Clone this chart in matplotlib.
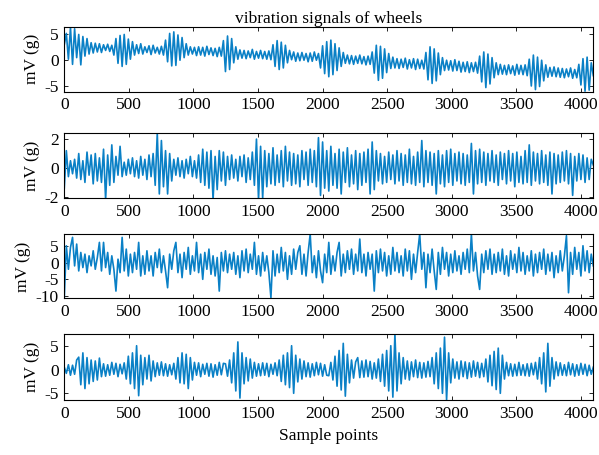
import numpy as np
import matplotlib
matplotlib.use("Agg")
import matplotlib.pyplot as plt

plt.rcParams['font.family'] = ['Liberation Serif', 'DejaVu Serif']
plt.rcParams['axes.unicode_minus'] = False

step = 16  # samples between read-off values

wheel1 = [
    3.0, 5.2, 0.2, 6.4, -0.8, 6.1, 0.5, 5.0, -0.9, 4.6, 0.8, 4.2, 1.2, 3.4, 1.4, 3.3,
    1.6, 3.2, 1.5, 3.0, 1.9, 3.1, 1.7, 2.9, 1.0, 4.2, -0.6, 4.8, -1.2, 5.0, -0.8, 4.1,
    0.2, 3.6, 1.0, 3.0, 1.3, 3.2, 1.2, 2.6, 1.5, 2.8, 1.1, 2.9, 1.4, 2.5, 1.2, 2.7,
    1.0, 3.9, -0.3, 5.2, -1.1, 5.5, -1.0, 4.9, 0.0, 4.4, 0.5, 3.2, 1.0, 2.6, 1.2, 2.5,
    0.9, 2.6, 1.0, 2.5, 0.8, 2.7, 1.1, 2.4, 0.9, 2.3, 0.7, 2.5, 0.8, 3.8, -2.2, 4.7,
    -1.8, 4.2, -0.5, 2.6, 0.2, 2.0, 0.4, 1.9, 0.3, 1.8, 0.5, 2.1, 0.2, 1.7, 0.4, 1.9,
    0.3, 1.7, 0.2, 1.8, 0.1, 3.0, -1.2, 3.8, -1.8, 3.5, -1.5, 2.9, -0.5, 1.9, 0.1, 1.6,
    -0.2, 1.4, -0.1, 1.5, 0.0, 1.3, -0.3, 1.4, -0.2, 1.6, 0.0, 1.3, -1.5, 2.8, -2.6, 3.6,
    -3.2, 3.9, -2.8, 3.2, -2.0, 2.4, -1.2, 1.5, -0.6, 1.0, -0.7, 0.9, -0.8, 0.8, -0.6, 1.0,
    -0.7, 0.7, -0.9, 0.8, -0.8, 1.6, -2.5, 2.9, -3.9, 2.7, -3.5, 2.2, -2.4, 1.3, -1.6, 0.6,
    -1.5, 0.3, -1.6, 0.2, -1.4, 0.4, -1.7, 0.1, -1.5, 0.3, -1.8, 0.2, -1.6, 0.0, -1.7, 1.5,
    -3.8, 2.6, -4.5, 2.2, -4.0, 1.4, -2.8, 0.5, -2.0, 0.0, -1.9, -0.1, -2.1, 0.1, -2.0, -0.2,
    -2.3, -0.4, -2.2, -0.3, -2.4, -0.5, -2.2, -0.4, -2.5, 0.8, -4.2, 1.6, -5.3, 1.2, -4.6, 0.5,
    -3.4, -0.5, -2.8, -0.8, -2.7, -1.0, -2.8, -0.9, -2.6, -1.1, -2.9, -0.8, -2.7, -1.0, -2.8, -0.9,
    -3.0, 0.2, -5.0, 1.0, -5.7, 0.6, -5.1, 0.0, -4.0, -0.9, -3.3, -1.4, -3.1, -1.3, -3.2, -1.5,
    -3.3, -1.6, -3.4, -1.7, -3.2, -1.5, -3.5, -1.8, -3.4, -0.8, -4.8, 0.3, -6.0, 0.6, -5.8, -0.5,
    -3.0,
]

wheel2 = [
    -1.4, 1.2, -0.6, 0.5, -0.4, 0.6, -0.7, 1.0, -0.8, 0.5, -1.0, 1.1, -0.5, 0.9, -1.1, 1.0,
    -0.9, 0.7, -1.0, 1.3, -2.2, 0.9, -1.2, 1.6, -1.0, 0.8, -0.5, 1.5, -0.6, 0.4, -0.5, 0.6,
    -0.4, 0.7, -0.6, 0.5, -0.7, 0.8, -0.5, 0.6, -0.8, 0.9, -0.6, 1.0, -1.2, 2.4, -1.8, 1.9,
    -1.3, 1.2, -1.8, 1.0, -0.9, 0.6, -0.5, 0.7, -0.6, 0.5, -0.7, 0.6, -0.4, 0.8, -0.6, 0.5,
    -0.7, 0.9, -1.0, 1.3, -1.2, 1.1, -1.4, 1.2, -2.2, 0.8, -1.5, 1.2, -0.9, 1.1, -1.2, 0.8,
    -0.8, 0.9, -0.7, 0.6, -0.9, 0.8, -0.6, 0.9, -1.0, 0.7, -0.8, 1.1, -1.2, 2.0, -2.2, 1.5,
    -2.1, 1.2, -1.3, 1.0, -1.1, 1.4, -1.2, 0.9, -1.0, 1.2, -1.3, 1.5, -0.9, 1.1, -1.2, 1.0,
    -1.1, 0.9, -1.3, 1.2, -0.8, 1.1, -1.2, 1.3, -1.0, 1.2, -1.3, 2.1, -1.9, 1.8, -1.4, 1.2,
    -1.6, 1.5, -1.2, 1.0, -1.4, 1.3, -1.8, 1.1, -1.0, 1.4, -1.3, 0.9, -1.1, 1.2, -1.5, 1.0,
    -1.2, 1.1, -1.0, 1.3, -1.8, 1.8, -1.5, 1.2, -0.9, 1.0, -1.1, 0.8, -1.0, 1.1, -0.8, 0.9,
    -1.1, 1.2, -0.9, 1.0, -1.2, 0.9, -1.0, 1.3, -1.1, 0.8, -1.2, 1.1, -1.0, 1.9, -1.3, 1.2,
    -1.0, 1.1, -1.2, 1.0, -1.8, 1.2, -1.1, 0.9, -1.3, 1.2, -1.0, 1.3, -1.2, 1.0, -0.9, 1.1,
    -1.1, 1.0, -1.2, 0.9, -1.0, 1.7, -1.8, 1.2, -1.1, 1.3, -1.0, 1.1, -1.2, 1.0, -0.9, 1.2,
    -1.0, 0.9, -1.2, 1.1, -0.8, 1.0, -1.1, 1.2, -0.9, 1.0, -1.3, 1.1, -1.0, 0.8, -1.1, 1.2,
    -1.0, 1.6, -1.2, 1.1, -0.9, 1.0, -1.1, 1.2, -1.0, 0.9, -1.2, 1.1, -1.8, 1.0, -1.1, 0.9,
    -1.0, 1.1, -0.9, 1.2, -1.1, 1.0, -1.9, 0.8, -0.9, 1.0, -0.8, 0.9, -1.0, 0.7, -0.8, 0.6,
    0.2,
]

wheel3 = [
    -10.5, 5.0, -2.0, 4.5, 7.5, -1.0, 5.5, -2.5, 3.0, -1.5, 2.5, -3.0, 2.0, -1.0, 3.5, -2.0,
    1.5, 6.0, -2.5, 6.0, -1.5, 3.0, -3.5, 2.0, -2.0, -8.5, 1.0, -3.0, 7.5, -2.5, 4.0, -4.0,
    2.5, -3.0, 3.0, -2.0, 6.0, -4.0, 2.0, -3.5, 3.5, -2.5, 2.0, -4.0, 3.0, -1.5, 4.0, -3.0,
    2.0, -2.5, -7.5, 2.5, -2.0, 3.5, 6.0, -3.0, 2.5, -4.5, 3.0, -2.0, 4.5, -3.5, 2.0, -2.5,
    6.0, -3.0, 2.5, -5.0, 3.0, -2.0, 4.0, -3.5, 2.0, -4.0, 1.5, -8.5, 3.0, -2.5, 3.5, -3.0,
    2.5, -2.0, 3.0, -3.5, 2.0, -4.5, 3.5, -2.5, 4.0, -3.0, 2.5, -2.0, 6.0, -3.5, 2.0, -4.0,
    3.0, -2.5, 2.0, -3.0, -10.5, 3.5, -4.0, 2.5, -3.0, 4.5, -2.5, 3.0, -5.0, 2.0, -3.5, 4.0,
    -2.0, 3.0, 5.0, -3.5, 2.5, -4.0, 3.0, 8.5, -3.0, 2.0, -4.5, 3.5, -2.5, -6.0, 2.5, -3.0,
    6.0, -3.5, 2.0, -2.5, 3.0, 6.0, -4.0, 2.5, -3.0, 3.5, -2.0, 4.0, -3.5, 2.5, -2.5, 7.0,
    -3.0, 2.5, -4.0, 3.0, -2.0, 2.5, -8.5, 3.5, -3.0, 4.0, -2.5, 3.0, -4.0, 2.0, -3.5, 4.5,
    -2.5, 3.0, -3.0, 2.0, -4.0, 4.0, -2.5, 3.5, -5.0, 2.5, -3.0, 3.0, 8.5, -2.0, 3.0, -7.5,
    2.5, -3.0, 4.0, -2.5, -8.0, 3.0, -3.5, 4.5, -2.0, 3.0, -4.0, 2.5, -3.0, 3.5, -2.5, 2.0,
    -3.5, 3.0, -2.0, 4.0, -3.0, 8.5, -2.5, 3.0, -4.0, -8.0, 2.5, -3.0, 3.5, -2.0, 4.0, -3.5,
    2.5, -3.0, 3.0, -2.5, 4.0, -3.5, 2.0, -4.0, 3.5, -2.0, 2.5, -3.0, 4.5, -2.5, 3.0, -3.5,
    2.0, -2.5, 3.5, -4.0, 2.5, -3.0, 3.0, -2.0, 4.0, -3.5, 2.5, -2.5, 3.0, -4.5, 2.0, -3.0,
    3.5, -2.5, 2.0, 8.0, -9.0, 3.0, -3.5, 4.5, -2.0, 3.0, -4.0, 5.0, -2.5, 3.5, -3.0, 2.5,
    -1.0,
]

wheel4 = [
    0.5, -0.8, 1.0, -1.2, 0.9, -1.0, 2.0, 2.6, -3.2, 3.5, -4.0, 2.5, -3.0, 2.0, -2.5, 1.8,
    -2.2, 2.4, -1.5, 1.2, -1.4, 1.0, -1.2, 1.5, -1.0, 1.3, -1.5, 1.1, -0.9, 1.4, -2.0, 2.8,
    -3.0, 3.5, -4.0, 5.0, -5.5, 3.0, -3.2, 2.5, -2.0, 3.0, -2.4, 1.8, -1.5, 1.4, -1.2, 1.6,
    -1.3, 1.2, -1.4, 1.0, -1.1, 1.3, -2.0, 2.5, -2.8, 3.5, -3.0, 3.2, -4.0, 2.5, -2.2, 1.5,
    -1.2, 1.4, -1.5, 1.1, -1.0, 1.3, -1.4, 1.2, -1.6, 1.0, -1.2, 1.5, -1.1, 1.3, 1.2, -1.4,
    2.0, -2.8, 3.5, -4.5, 5.8, -6.0, 3.5, -3.0, 2.5, -2.4, 2.2, -1.8, 1.5, -1.4, 1.2, -1.3,
    1.4, -1.2, 1.3, -1.5, 1.1, -1.0, 1.4, -1.3, 2.0, -2.5, 3.0, -3.2, 3.5, -3.8, 5.0, -5.0,
    3.0, -2.6, 2.2, -2.0, 1.8, -1.5, 1.4, -1.6, 1.2, -1.3, 1.5, -1.1, 1.3, -1.4, 1.0, -1.2,
    -1.3, 1.5, -2.2, 2.8, -3.5, 4.0, -4.3, 5.5, -5.6, 3.2, -2.8, 2.0, -1.8, 1.6, 2.5, -1.7,
    1.8, -1.6, 2.0, -1.5, 1.7, -2.0, 1.4, -1.8, 2.2, -2.5, 3.2, -3.5, 4.0, -4.5, 5.0, -5.8,
    7.5, -4.5, 3.5, -3.0, 2.5, -2.0, 1.8, -2.2, 1.6, -1.5, 2.0, -1.7, 1.5, -1.8, 1.4, -1.6,
    1.7, -1.5, 2.5, -3.0, 3.5, -4.0, 4.5, -5.0, 6.8, -6.4, 3.5, -2.8, 2.2, -1.8, 1.6, -2.0,
    1.8, -1.5, 1.6, -1.9, 1.4, -1.6, 1.8, -1.4, 1.5, -1.7, 1.3, -1.5, 2.2, -2.6, 3.0, -3.4,
    3.8, -4.2, 4.5, -5.0, 3.0, -2.0, 1.5, -1.3, 1.2, -1.4, 1.1, -1.3, 1.5, -1.2, 1.0, -1.3,
    1.2, -1.4, 1.3, -1.1, 1.5, -2.0, 2.5, -3.0, 3.5, -4.7, 5.5, -3.5, 2.5, -2.0, 1.6, -1.3,
    1.4, -1.2, 1.0, -1.3, 1.5, -1.1, 1.2, -1.4, 1.0, -1.2, 1.3, -1.0, 1.1, -1.3, 0.9, -1.0,
    0.5,
]

signals = [wheel1, wheel2, wheel3, wheel4]
ylims = [(-6.1, 6.5), (-2.1, 2.4), (-10.7, 8.4), (-6.4, 7.4)]
yticks = [[-5, 0, 5], [-2, 0, 2], [-10, -5, 0, 5], [-5, 0, 5]]
xticks = list(range(0, 4001, 500))

# axes boxes [left, bottom, width, height] in figure fraction
boxes = [
    [0.1073, 0.7985, 0.8832, 0.1428],
    [0.1073, 0.5642, 0.8832, 0.1428],
    [0.1073, 0.3440, 0.8832, 0.1410],
    [0.1073, 0.1209, 0.8832, 0.1444],
]

fig = plt.figure(figsize=(5.99, 4.55), dpi=100)
color = '#0a80c6'
fs = 12.5
for k, (sig, yl, yt, box) in enumerate(zip(signals, ylims, yticks, boxes)):
    ax = fig.add_axes(box)
    y = np.array(sig)
    x = np.arange(len(y)) * step
    ax.plot(x, y, color=color, linewidth=1.2)
    ax.set_xlim(0, 4096)
    ax.set_ylim(*yl)
    ax.set_xticks(xticks)
    ax.set_yticks(yt)
    ax.tick_params(direction='in', length=3, width=0.6, top=True, right=True,
                   labelsize=fs, pad=4)
    for s in ax.spines.values():
        s.set_linewidth(0.8)
    ax.set_ylabel('mV (g)', fontsize=fs, labelpad=3)
    if k == 0:
        ax.set_title('vibration signals of wheels', fontsize=fs, pad=3)
    if k == 3:
        ax.set_xlabel('Sample points', fontsize=fs, labelpad=5)

fig.savefig('out.png', dpi=100)
